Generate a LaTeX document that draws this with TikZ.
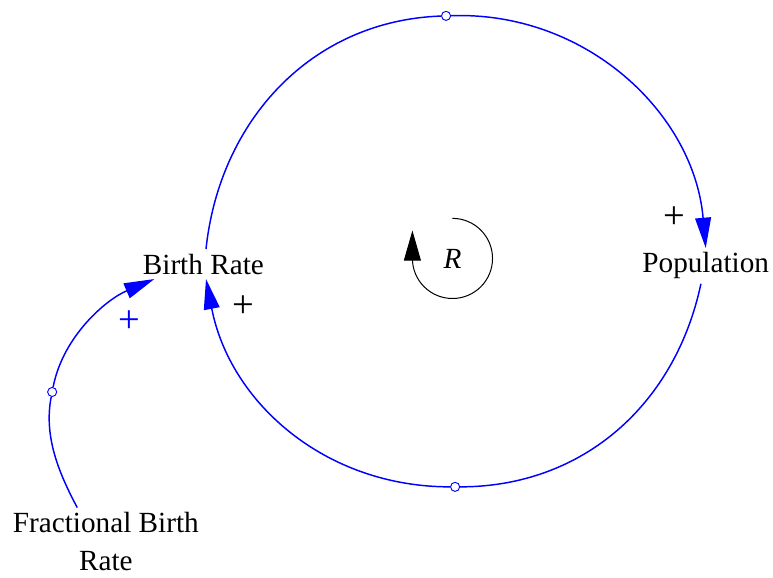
\documentclass[tikz,border=0pt]{standalone}
\usepackage{fontspec}
\setmainfont{Liberation Serif}
\usepackage{tikz}
\usetikzlibrary{arrows.meta, positioning}
\definecolor{flowblue}{RGB}{0,0,255}
\newcommand{\varfont}{\fontsize{22}{26.3}\selectfont}
\tikzset{
  varnode/.style={font=\varfont, anchor=base},
  valve/.style={circle, draw=flowblue, fill=white, inner sep=0pt,
    minimum size=0.24cm, line width=0.7pt},
  signnode/.style={font=\fontsize{29}{30}\selectfont, inner sep=0pt},
  link/.style={-{Triangle[length=0.8cm,width=0.42cm]}, flowblue, line width=1.1pt},
  looparrow/.style={-{Triangle[length=0.8cm,width=0.45cm]}, line width=0.75pt, color=black}
}
\begin{document}
\begin{tikzpicture}
  \useasboundingbox (0,0) rectangle (20.45,15.29);
  \node[varnode] (br) at (5.38,8.04) {Birth Rate};
  \node[varnode] (pop) at (18.67,8.07) {Population};
  \node[varnode, align=center] (fbr) at (2.80,0.19) {Fractional Birth\\[2.5pt]Rate};
  \node[varnode] (R) at (11.97,8.20) {\textit{R}};
  \node[valve] (v1) at (11.80,14.87) {};
  \node[valve] (v2) at (12.04,2.41) {};
  \node[valve] (v3) at (1.38,4.92) {};
  \draw[link] (br.80) to[out=84, in=182] (v1) to[out=2, in=95] (pop.north);
  \draw[link] (pop.255) to[out=258, in=0] (v2) to[out=180, in=-79] (br.280);
  \draw[link] (fbr.130) to[out=118, in=259, looseness=0.9] (v3)
    to[out=79, in=203, looseness=0.9] (br.197);
  \draw[looparrow] ([yshift=1.06cm]R.center) arc[start angle=90, end angle=-180, radius=1.06cm] -- ++(0,0.74);
  \node[signnode] (s1) at (17.83,9.52) {+};
  \node[signnode] (s2) at (6.43,7.17) {+};
  \node[signnode, text=flowblue] (s3) at (3.41,6.77) {+};
\end{tikzpicture}
\end{document}
